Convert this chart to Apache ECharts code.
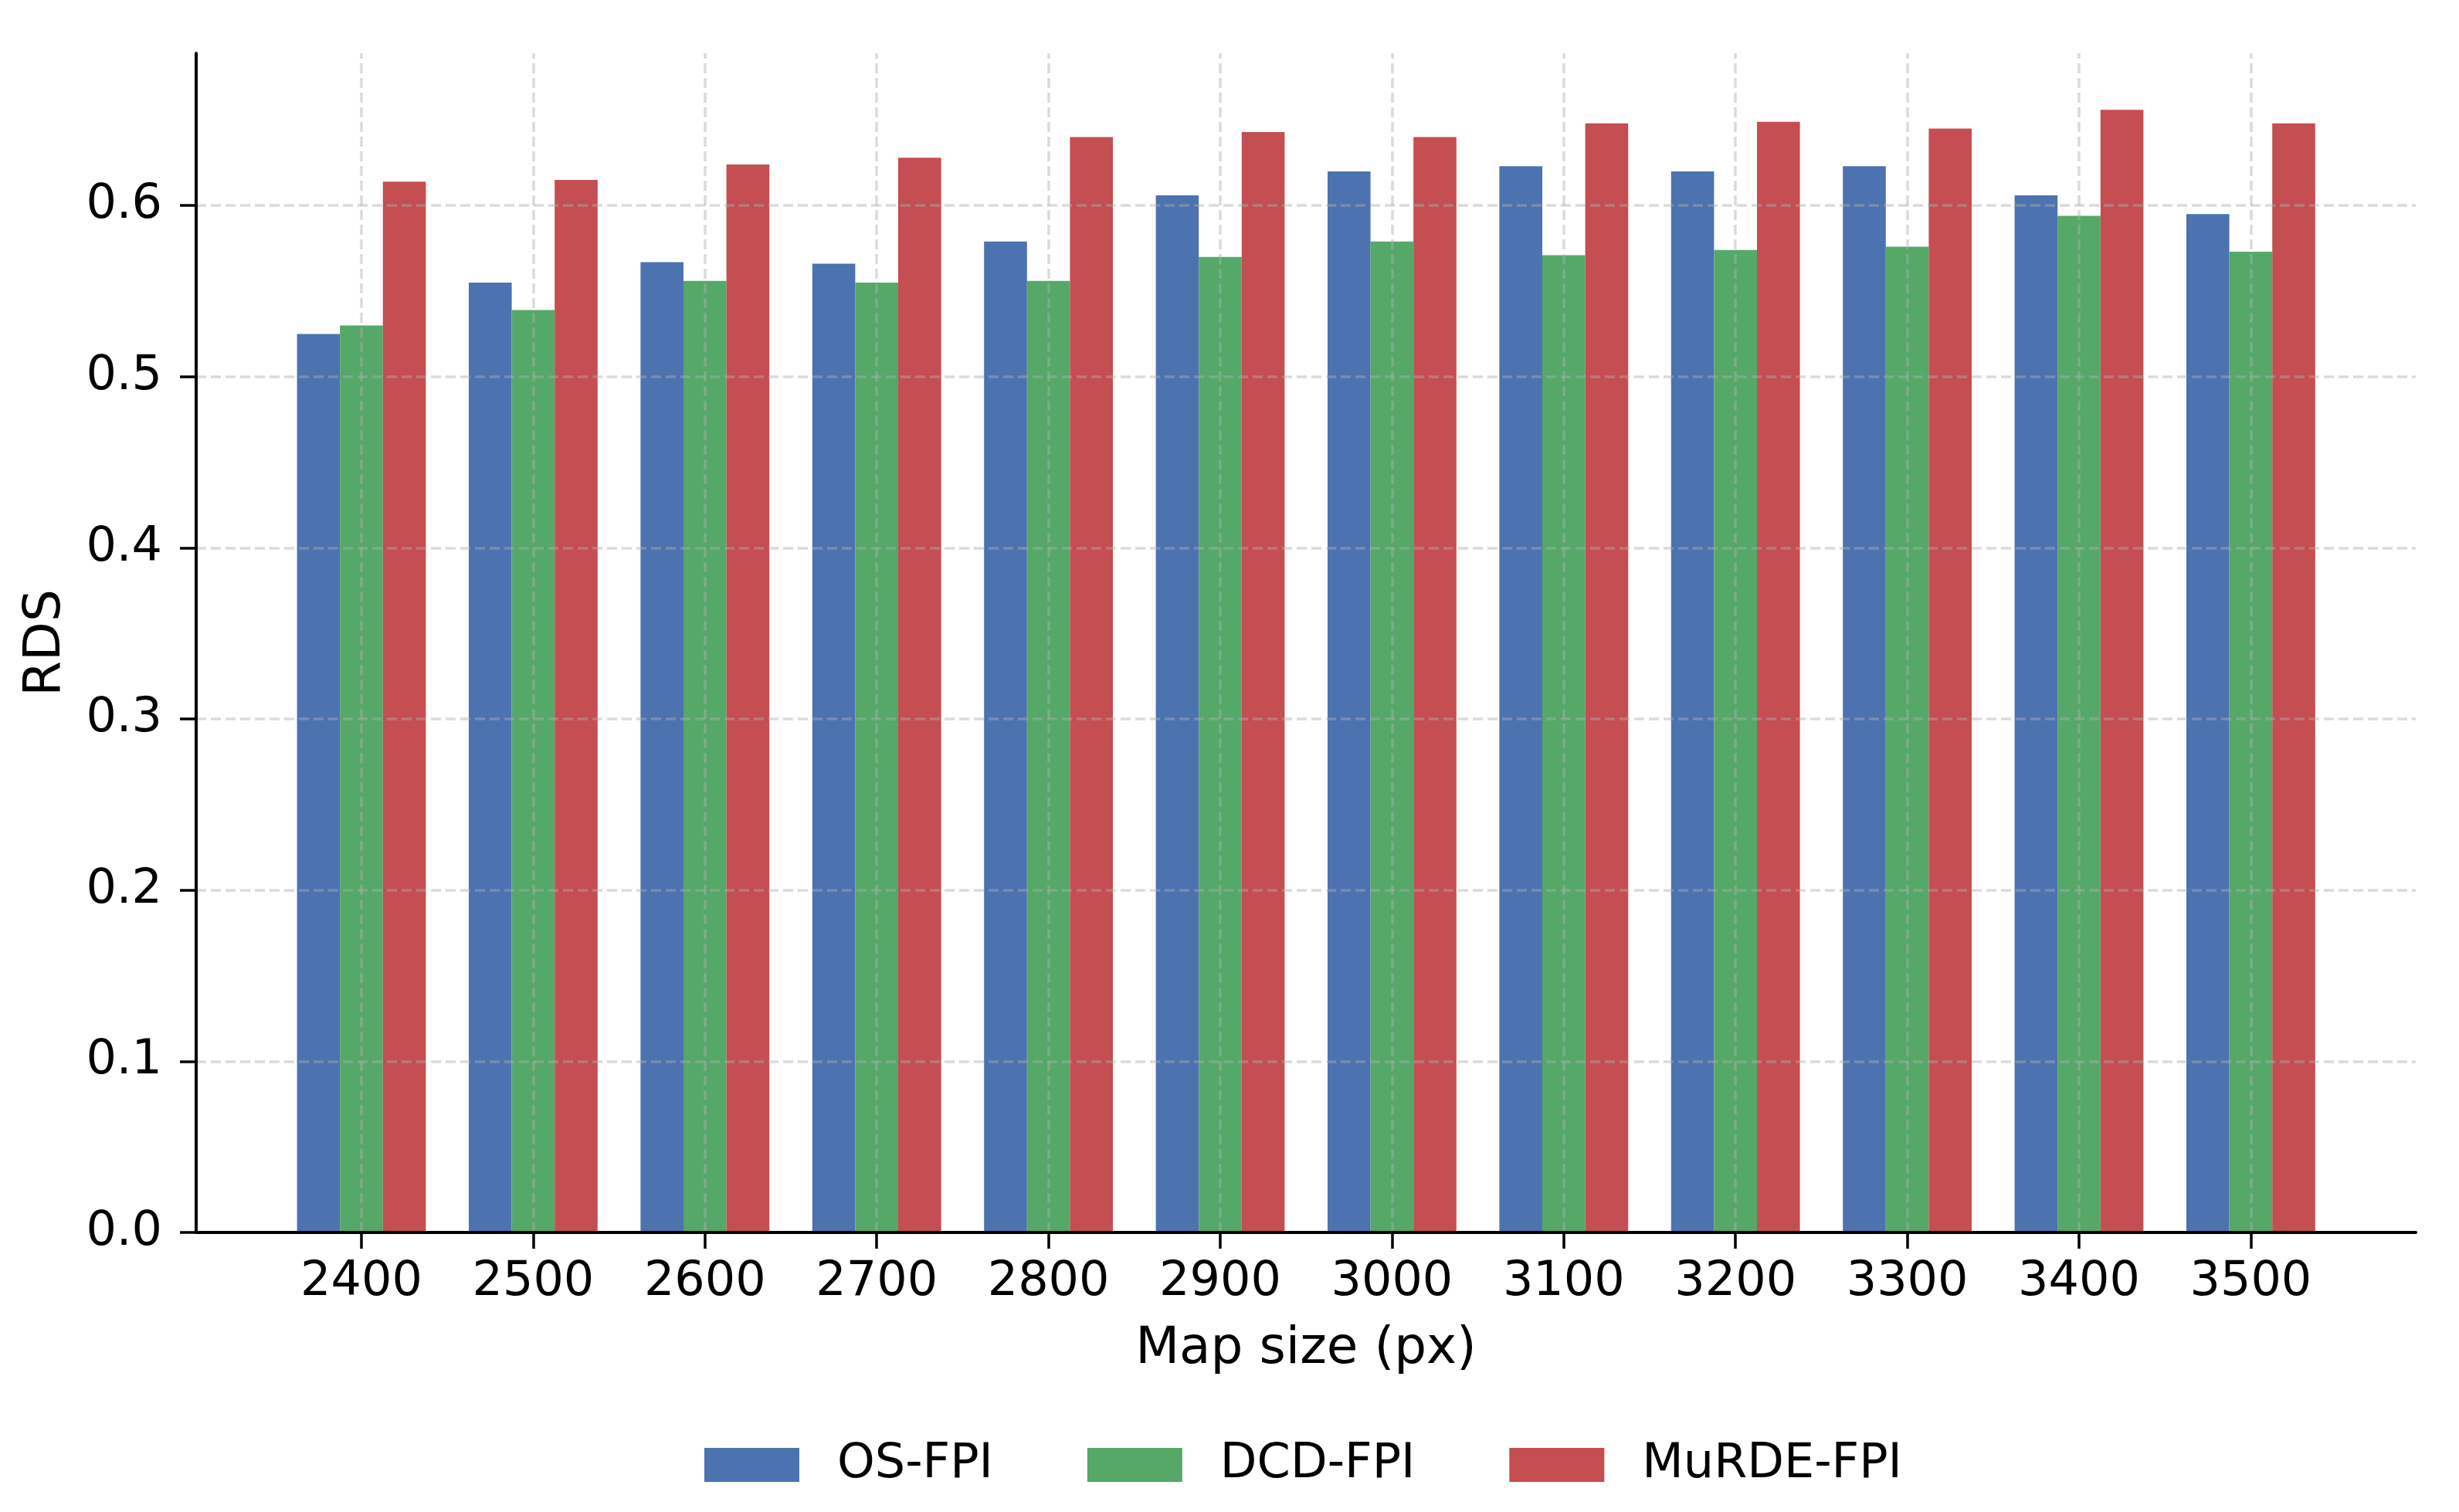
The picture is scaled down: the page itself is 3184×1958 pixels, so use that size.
<!DOCTYPE html>
<html>
<head>
<meta charset="utf-8">
<script src="https://cdn.jsdelivr.net/npm/echarts@6/dist/echarts.min.js"></script>
<style>
html,body{margin:0;padding:0;background:#fff;}
#chart{width:3184px;height:1958px;}
</style>
</head>
<body>
<div id="chart"></div>
<script>
const categories = ['2400','2500','2600','2700','2800','2900','3000','3100','3200','3300','3400','3500'];
const osFpi    = [0.525, 0.555, 0.567, 0.566, 0.579, 0.606, 0.620, 0.623, 0.620, 0.623, 0.606, 0.595];
const dcdFpi   = [0.530, 0.539, 0.556, 0.555, 0.556, 0.570, 0.579, 0.571, 0.574, 0.576, 0.594, 0.573];
const murdeFpi = [0.614, 0.615, 0.624, 0.628, 0.640, 0.643, 0.640, 0.648, 0.649, 0.645, 0.656, 0.648];
const seriesNames = ['OS-FPI', 'DCD-FPI', 'MuRDE-FPI'];
const colors = ['#4C72B0', '#55A868', '#C44E52'];
const yMax = 0.689;
const yTickMax = 0.6;

const FONT = 'DejaVu Sans';
const gridColor = 'rgba(176,176,176,0.45)';
const gridDash = [13, 6];

// geometry (pixels)
const W = 3184, H = 1958;
const axisLeft = 254, axisRight = 3128, axisTop = 69, axisBottom = 1596;
const firstCenter = 468, step = 222.4;
const barLeft = firstCenter - step / 2;
const barWidthTotal = step * categories.length;
const yTickTop = axisBottom - (axisBottom - axisTop) * yTickMax / yMax;

const chart = echarts.init(document.getElementById('chart'), null, {renderer: 'canvas'});

const vLines = categories.map(c => ({xAxis: c}));

const option = {
  backgroundColor: '#ffffff',
  animation: false,
  textStyle: {fontFamily: FONT},
  grid: [
    // 0: tick labels + horizontal grid lines (0..0.6)
    {left: axisLeft, right: W - axisRight, top: yTickTop, bottom: H - axisBottom, containLabel: false},
    // 1: spines + axis names
    {left: axisLeft, right: W - axisRight, top: axisTop, bottom: H - axisBottom, containLabel: false},
    // 2: bars + category labels
    {left: barLeft, right: W - barLeft - barWidthTotal, top: axisTop, bottom: H - axisBottom, containLabel: false}
  ],
  xAxis: [
    {gridIndex: 0, type: 'value', min: 0, max: 1, show: false},
    {gridIndex: 1, type: 'value', min: 0, max: 1, z: 6,
      axisLine: {show: true, lineStyle: {color: '#000', width: 4}},
      axisTick: {show: false}, axisLabel: {show: false}, splitLine: {show: false},
      name: 'Map size (px)', nameLocation: 'middle', nameGap: 119,
      nameTextStyle: {fontFamily: FONT, fontSize: 66, color: '#000'}},
    {gridIndex: 2, type: 'category', data: categories,
      axisLine: {show: false},
      axisTick: {show: true, alignWithLabel: true, inside: false, length: 21, lineStyle: {color: '#000', width: 3.5}},
      axisLabel: {show: true, margin: 34, fontFamily: FONT, fontSize: 62, color: '#000'},
      splitLine: {show: false}}
  ],
  yAxis: [
    {gridIndex: 0, type: 'value', min: 0, max: yTickMax, interval: 0.1, z: 5,
      axisLine: {show: false},
      axisTick: {show: true, inside: false, length: 21, lineStyle: {color: '#000', width: 3.5}},
      axisLabel: {show: true, margin: 44, fontFamily: FONT, fontSize: 62, color: '#000',
        formatter: v => v.toFixed(1)},
      splitLine: {show: true, lineStyle: {color: gridColor, width: 3.5, type: gridDash}}},
    {gridIndex: 1, type: 'value', min: 0, max: yMax, z: 6,
      axisLine: {show: true, lineStyle: {color: '#000', width: 4}},
      axisTick: {show: false}, axisLabel: {show: false}, splitLine: {show: false},
      name: 'RDS', nameLocation: 'middle', nameGap: 161, nameRotate: 90,
      nameTextStyle: {fontFamily: FONT, fontSize: 66, color: '#000'}},
    {gridIndex: 2, type: 'value', min: 0, max: yMax, show: false}
  ],
  legend: {
    data: seriesNames,
    left: 907, top: 1861,
    icon: 'rect', itemWidth: 123, itemHeight: 44, itemGap: 122,
    textStyle: {fontFamily: FONT, fontSize: 62, color: '#000', lineHeight: 62, padding: [0, 0, 0, 44]}
  },
  series: [
    {name: seriesNames[0], type: 'bar', xAxisIndex: 2, yAxisIndex: 2, data: osFpi,
      itemStyle: {color: colors[0]}, barGap: '0%', barCategoryGap: '25%'},
    {name: seriesNames[1], type: 'bar', xAxisIndex: 2, yAxisIndex: 2, data: dcdFpi,
      itemStyle: {color: colors[1]}, barGap: '0%', barCategoryGap: '25%',
      markLine: {silent: true, symbol: 'none', label: {show: false}, z: 5,
        lineStyle: {color: gridColor, width: 3.5, type: gridDash}, data: vLines}},
    {name: seriesNames[2], type: 'bar', xAxisIndex: 2, yAxisIndex: 2, data: murdeFpi,
      itemStyle: {color: colors[2]}, barGap: '0%', barCategoryGap: '25%'}
  ]
};
chart.setOption(option);
</script>
</body>
</html>
